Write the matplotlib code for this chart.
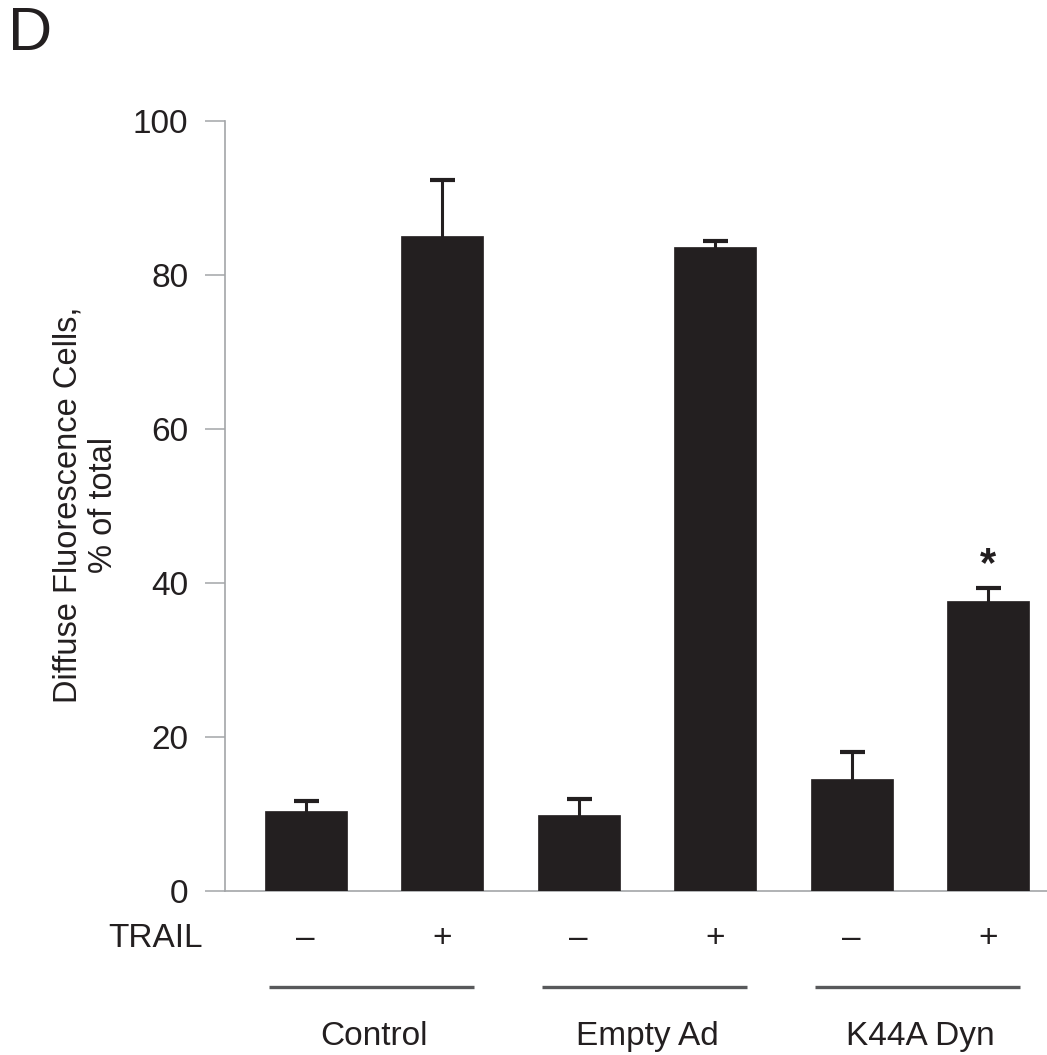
import numpy as np
import matplotlib
matplotlib.use('Agg')
import matplotlib.pyplot as plt

plt.rcParams['font.family'] = ['Liberation Sans', 'DejaVu Sans']

GROUPS = ['Control', 'Empty Ad', 'K44A Dyn']
TRAIL = ['\u2013', '+', '\u2013', '+', '\u2013', '+']
MEANS = [10.4, 85.1, 9.9, 83.7, 14.6, 37.7]
ERR_UP = [1.3, 7.2, 2.1, 0.7, 3.5, 1.7]
STARRED = [5]
Y_TICKS = [0, 20, 40, 60, 80, 100]

INK = '#231f20'
AXIS_GRAY = '#a3a5a8'
RULE_GRAY = '#58595b'

W, H = 1047, 1055
fig = plt.figure(figsize=(W / 100, H / 100), dpi=100, facecolor='white')

# axes box in pixel terms: spine at x=225, zero line at y=891, top tick at y=121
left, right = 225 / W, 1.0
bottom, top = (H - 891) / H, (H - 121) / H
ax = fig.add_axes([left, bottom, right - left, top - bottom])

x = np.arange(len(MEANS))
ax.bar(x, MEANS, width=0.6, color=INK, edgecolor=INK, linewidth=0.5, zorder=3)
# symmetric bars sit behind the columns, so only the upper whisker shows
ax.errorbar(x, MEANS, yerr=ERR_UP, fmt='none',
            ecolor=INK, elinewidth=2.2, capsize=9, capthick=3.0, zorder=2)

for i in STARRED:
    ax.text(x[i], MEANS[i] + ERR_UP[i] + 1.5, '*', ha='center', va='baseline',
            fontsize=30, fontweight='bold', color=INK)

ax.set_xlim(-0.59, 5.43)
ax.set_ylim(0, 100)
ax.set_yticks(Y_TICKS)
ax.set_yticklabels([str(t) for t in Y_TICKS], fontsize=24, color=INK)
ax.tick_params(axis='y', length=14.5, width=1.1, color=AXIS_GRAY, pad=12)
ax.set_xticks([])

for side in ('top', 'right'):
    ax.spines[side].set_visible(False)
for side in ('left', 'bottom'):
    ax.spines[side].set_color(AXIS_GRAY)
    ax.spines[side].set_linewidth(1.2)

# treatment row and group rules below the axis (data x, data y below zero)
ax.text(-0.755, -7.3, 'TRAIL', ha='right', va='baseline', fontsize=24,
        color=INK, clip_on=False)
for xi, lab in zip(x, TRAIL):
    ax.text(xi, -7.3, lab, ha='center', va='baseline', fontsize=24,
            color=INK, clip_on=False)

for g, name in enumerate(GROUPS):
    x0, x1 = x[2 * g], x[2 * g + 1]
    ax.plot([x0 - 0.27, x1 + 0.23], [-12.5, -12.5], color=RULE_GRAY, lw=2.4,
            clip_on=False, solid_capstyle='butt')
    ax.text((x0 + x1) / 2, -20.0, name, ha='center', va='baseline',
            fontsize=24, color=INK, clip_on=False)

fig.text(86 / W, 1 - 505 / H, 'Diffuse Fluorescence Cells,\n% of total',
         rotation=90, ha='center', va='center', fontsize=23.5, color=INK,
         linespacing=1.2, multialignment='center')

fig.text(8 / W, 1 - 50 / H, 'D', ha='left', va='baseline', fontsize=44,
         color=INK)

fig.savefig('out.png', dpi=100, facecolor='white')
